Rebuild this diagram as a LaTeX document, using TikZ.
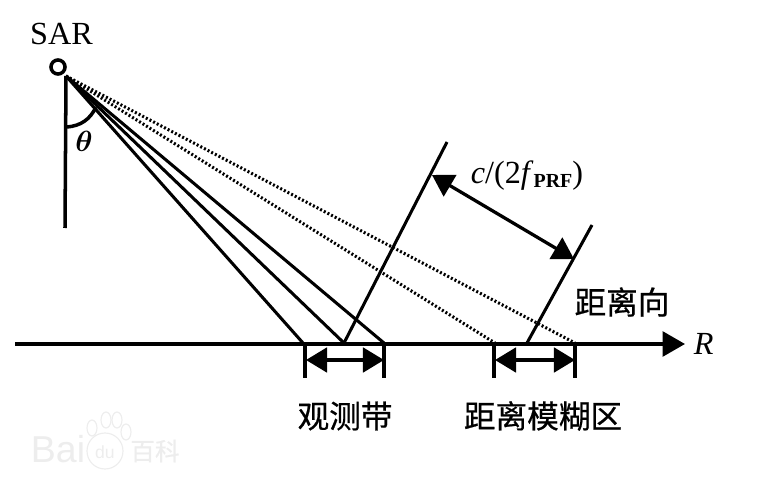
\documentclass[tikz,border=0pt]{standalone}
\usepackage{amsmath}
\usepackage{fontspec}
\setmainfont{Liberation Serif}
\newfontfamily\cjk[FakeBold=0.6]{Noto Sans CJK SC}
\newfontfamily\logofont{Liberation Sans}
\usetikzlibrary{arrows.meta}

\tikzset{
  line/.style={line width=3pt},
  beam/.style={line width=2.6pt},
  echo/.style={line width=2.6pt, dash pattern=on 1.7pt off 1.8pt},
  dim/.style={line width=2.8pt, {Triangle[length=18pt,width=21pt]}-{Triangle[length=18pt,width=21pt]}},
  lab/.style={font=\fontsize{27.5}{30}\selectfont, inner sep=0pt},
  zh/.style={font=\cjk\fontsize{27}{30}\selectfont, inner sep=0pt},
  logo/.style={text=black!7, inner sep=0pt}
}

\begin{document}
\begin{tikzpicture}[x=0.03cm, y=-0.03cm]
  \useasboundingbox (0,0) rectangle (759,485);

  % sensor
  \node [draw, circle, line width=3pt, minimum size=12pt, inner sep=0pt] (sar) at (58,67) {};
  \node [lab, above of=sar, node distance=28pt, xshift=3pt] (sarlabel) {SAR};
  \coordinate (apex) at (66,76);
  \coordinate (nadir) at (65,228);
  \draw[line] (apex) -- (nadir);

  % ground
  \coordinate (g0) at (15,344);
  \coordinate (gR) at (685,344);
  \node [lab, right of=gR, node distance=16pt] (rlabel) {\textit{R}};
  \draw[line, -{Triangle[length=19pt,width=21pt]}] (g0) -- (gR);

  % beams
  \coordinate (s1) at (303,343);
  \coordinate (s2) at (344,343);
  \coordinate (s3) at (384,343);
  \coordinate (e1) at (495,343);
  \coordinate (e2) at (575,343);
  \foreach \p in {s1,s2,s3} \draw[beam] (apex) -- (\p);
  \foreach \p in {e1,e2} \draw[echo] (apex) -- (\p);

  % angle
  \coordinate (a1) at (67,127);
  \coordinate (a2) at (96,107);
  \draw[line] (a1) to[bend right=30] (a2);
  \node [lab] (thetalabel) at (84,141) {\fontsize{29}{29}\selectfont$\boldsymbol{\theta}$};

  % range lines
  \coordinate (f1) at (527,343);
  \coordinate (t1) at (447,142);
  \coordinate (t2) at (592,225);
  \draw[beam] (s2) -- (t1);
  \draw[beam] (f1) -- (t2);

  % c/(2f)
  \coordinate (d1) at (432,175);
  \coordinate (d2) at (574,259);
  \draw[dim] (d1) -- (d2);
  \node [lab] (prf) at (527,176) {\textit{c}/(2\textit{f}\raisebox{-3pt}{\fontsize{17}{17}\selectfont\bfseries PRF})};
  \node [zh] (rangedir) at (622,302) {距离向};

  % ticks
  \foreach \x/\n in {305/k1,384/k2,494/k3,575/k4} {
    \coordinate (\n a) at (\x,344);
    \coordinate (\n b) at (\x,378);
    \draw[line] (\n a) -- (\n b);
  }
  \coordinate (w1) at (306,360);
  \coordinate (w2) at (384,360);
  \coordinate (w3) at (495,360);
  \coordinate (w4) at (575,360);
  \draw[dim] (w1) -- (w2);
  \draw[dim] (w3) -- (w4);
  \node [zh] (swath) at (345,416) {观测带};
  \node [zh] (ambig) at (543,416) {距离模糊区};

  % watermark
  \node [logo, font=\logofont\fontsize{32}{32}\selectfont] (bai) at (58,449) {Bai};
  \node [logo, font=\logofont\fontsize{15}{15}\selectfont] (du) at (105,452) {du};
  \node [logo, font=\cjk\fontsize{21}{21}\selectfont] (baike) at (155,451) {百科};
  \foreach \x/\y in {92/428,106/420,117/420,126/432}
    \draw[black!7, line width=1pt] (\x,\y) ellipse [x radius=5, y radius=8];
  \draw[black!7, line width=1pt] (105,451) circle [radius=18];
\end{tikzpicture}
\end{document}
